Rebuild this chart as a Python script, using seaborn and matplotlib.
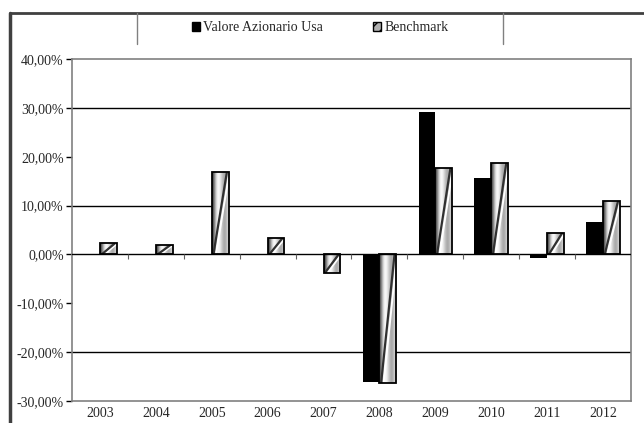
import numpy as np
import pandas as pd
import matplotlib
matplotlib.use("Agg")
import matplotlib.pyplot as plt
import seaborn as sns
from matplotlib.lines import Line2D
from matplotlib.patches import Patch, Rectangle
from matplotlib.ticker import FuncFormatter

# data (annual returns, %)
years = ["2003", "2004", "2005", "2006", "2007", "2008", "2009", "2010", "2011", "2012"]
valore = [np.nan, np.nan, np.nan, np.nan, np.nan, -26.2, 29.2, 15.7, -0.7, 6.7]
benchmark = [2.3, 2.0, 16.8, 3.4, -3.7, -26.3, 17.7, 18.8, 4.4, 11.0]
series_names = ["Valore Azionario Usa", "Benchmark"]
grid_levels = [30, 10, -20]

df = pd.DataFrame({
    "year": years * 2,
    "value": valore + benchmark,
    "serie": [series_names[0]] * len(years) + [series_names[1]] * len(years),
})

sns.set_theme(style="white")
plt.rcParams["font.family"] = ["Liberation Serif", "DejaVu Serif"]

fig = plt.figure(figsize=(6.44, 4.23), dpi=100)
ax = fig.add_axes([0.1118, 0.052, 0.868, 0.8085])

sns.barplot(data=df, x="year", y="value", hue="serie", order=years,
            hue_order=series_names, palette=["black", "#d0d0d0"],
            width=0.6, gap=0, saturation=1, linewidth=0,
            legend=False, ax=ax, zorder=3)

n = len(years)

# gradient fill + one diagonal stripe on each benchmark bar
grad = np.array([[0.25, 0.6, 0.9, 1.0, 0.9, 0.75, 0.65, 0.7, 0.85]])
for p in ax.containers[1].patches:
    h = p.get_height()
    if h == 0 or np.isnan(h):
        continue
    x0, y0, w = p.get_x(), p.get_y(), p.get_width()
    im = ax.imshow(grad, cmap="gray", vmin=0, vmax=1, aspect="auto",
                   extent=[x0, x0 + w, y0, y0 + h], zorder=3.5,
                   interpolation="bicubic")
    im.set_clip_path(p)
    p.set_facecolor("none")
    p.set_zorder(4)
    yb, yt = min(y0, y0 + h), max(y0, y0 + h)
    stripe, = ax.plot([x0 + 0.1 * w, x0 + 0.9 * w], [yb, yt], color="#303030",
                      linewidth=1.6, zorder=4.5, solid_capstyle="butt")
    stripe.set_clip_path(p)
    hl, = ax.plot([x0 + 0.25 * w, x0 + 1.05 * w], [yb, yt], color="white",
                  linewidth=1.4, zorder=4.4, solid_capstyle="butt")
    hl.set_clip_path(p)
    ax.add_patch(Rectangle((x0, y0), w, h, fill=False, edgecolor="black",
                           linewidth=1.3, zorder=5))

ax.set_xlim(-0.5, n - 0.5)
ax.set_ylim(-30, 40)
ax.set_yticks(range(-30, 41, 10))
ax.yaxis.set_major_formatter(FuncFormatter(lambda v, _: f"{v:.2f}%".replace(".", ",")))
ax.set_xlabel("")
ax.set_ylabel("")

for lvl in grid_levels:
    ax.axhline(lvl, color="black", linewidth=1, zorder=1)
ax.axhline(0, color="black", linewidth=1, zorder=6)

# small category separators on zero line
ax.vlines(np.arange(n - 1) + 0.5, -1.0, 0, color="#606060", linewidth=0.8, zorder=6)

for s in ["left", "top", "right", "bottom"]:
    ax.spines[s].set_color("#808080")
    ax.spines[s].set_linewidth(1.2)

ax.tick_params(axis="y", length=4, width=1, color="black", direction="out",
               labelsize=10, pad=2, left=True)
ax.tick_params(axis="x", length=0, labelsize=10, pad=4)

# legend
handles = [Patch(facecolor="black", edgecolor="black"),
           Patch(facecolor="#b0b0b0", edgecolor="black", hatch="///")]
fig.legend(handles, series_names, loc="center", bbox_to_anchor=(0.497, 0.934),
           ncol=2, frameon=False, fontsize=10, handlelength=0.6, handleheight=0.6,
           handletextpad=0.2, columnspacing=3.6, borderaxespad=0)

# outer frame lines
fig.add_artist(Line2D([0.0155, 1.0], [0.969, 0.969], color="#404040", linewidth=2))
fig.add_artist(Line2D([0.0155, 0.0155], [0.0, 0.969], color="#404040", linewidth=2.5))
for xv in [0.213, 0.781]:
    fig.add_artist(Line2D([xv, xv], [0.896, 0.969], color="#808080", linewidth=1))

fig.savefig("out.png", dpi=100)
